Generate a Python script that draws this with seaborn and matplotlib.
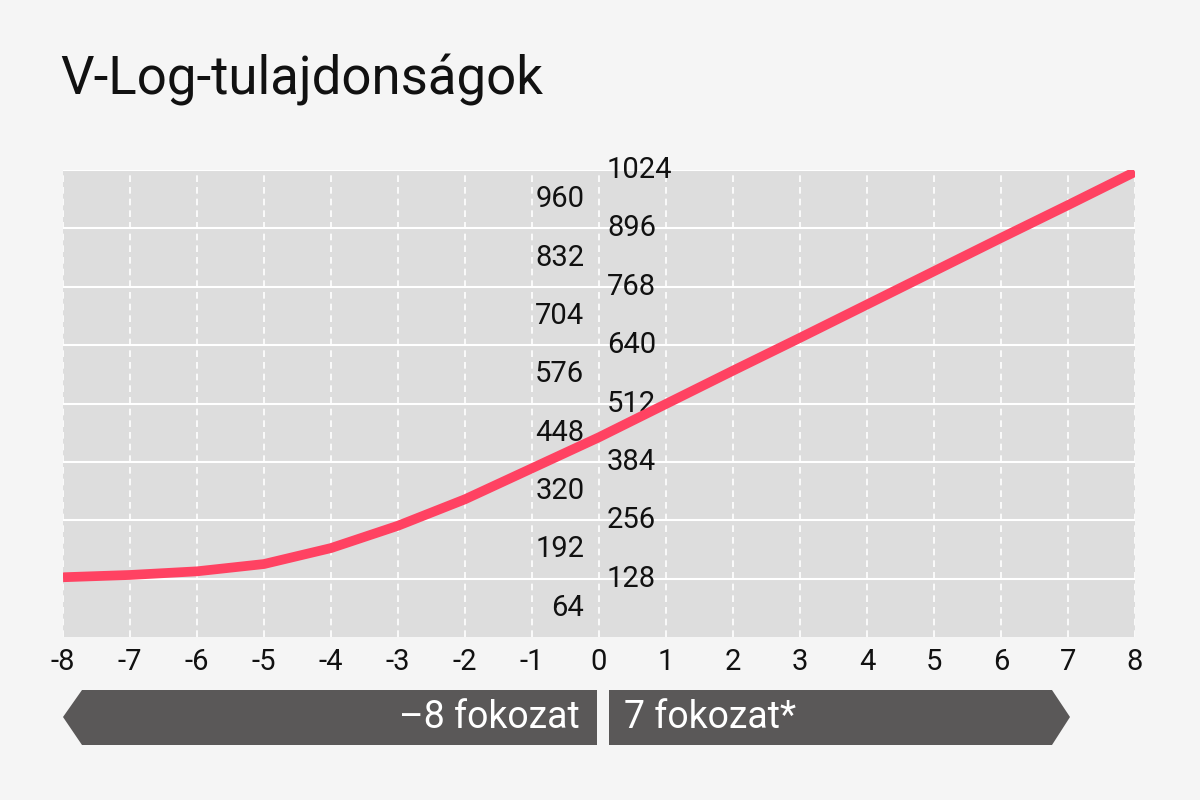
import matplotlib
matplotlib.use("Agg")
import matplotlib.pyplot as plt
import seaborn as sns
import pandas as pd
from matplotlib.patches import Polygon

stops = [-8, -7, -6, -5, -4, -3, -2, -1, 0, 1, 2, 3, 4, 5, 6, 7, 8]
code_values = [131, 136, 144, 160, 195, 244, 302, 370, 438, 511, 584, 656, 729, 802, 875, 947, 1020]
right_labels = [128, 256, 384, 512, 640, 768, 896, 1024]
left_labels = [64, 192, 320, 448, 576, 704, 832, 960]
title = "V-Log-tulajdonságok"
left_banner = "–8 fokozat"
right_banner = "7 fokozat*"

sns.set_theme(style="white")
FONT = ['Liberation Sans Narrow', 'Roboto', 'DejaVu Sans']
plt.rcParams['font.family'] = FONT

fig = plt.figure(figsize=(12, 8), dpi=100, facecolor="#f5f5f5")
ax = fig.add_axes([63/1200, 1-637/800, (1135-63)/1200, (637-170)/800])
ax.set_facecolor("#dddddd")
df = pd.DataFrame({"x": stops, "y": code_values})
ax.set_xlim(-8, 8)
ax.set_ylim(0, 1024)
for v in right_labels:
    ax.axhline(v, color="white", lw=1.5, zorder=1)
for s in stops:
    ax.axvline(s, color="white", lw=1.2, ls=(0, (4, 3)), zorder=1)
sns.lineplot(data=df, x="x", y="y", ax=ax, color="#ff4262", lw=7, zorder=3,
             solid_capstyle="butt", solid_joinstyle="round")
for sp in ax.spines.values():
    sp.set_visible(False)
ax.set_xticks(stops)
ax.set_xticklabels([str(s) for s in stops], fontsize=21, color="#111111")
ax.tick_params(axis="x", length=0, pad=8)
ax.set_yticks([])
ax.set_xlabel(""); ax.set_ylabel("")
for v in right_labels:
    ax.text(0.12, v, str(v), ha="left", va="center", fontsize=21, color="#111111", zorder=2)
for v in left_labels:
    ax.text(-0.22, v, str(v), ha="right", va="center", fontsize=21, color="#111111", zorder=2)

fig.text(60/1200, 1-80/800, title, fontsize=38, color="#111111", ha="left", va="center")

gc = "#5a5858"
W, H = 1200, 800
def P(pts):
    return Polygon([(x/W, 1-y/H) for x, y in pts], closed=True, transform=fig.transFigure,
                   facecolor=gc, edgecolor="none")
fig.patches.append(P([(63, 717), (82, 690), (597, 690), (597, 745), (82, 745)]))
fig.patches.append(P([(609, 690), (1052, 690), (1070, 717), (1052, 745), (609, 745)]))
fig.text(580/W, 1-717/H, left_banner, fontsize=27, color="white", ha="right", va="center")
fig.text(624/W, 1-717/H, right_banner, fontsize=27, color="white", ha="left", va="center")

fig.savefig("out.png", dpi=100, facecolor=fig.get_facecolor())
